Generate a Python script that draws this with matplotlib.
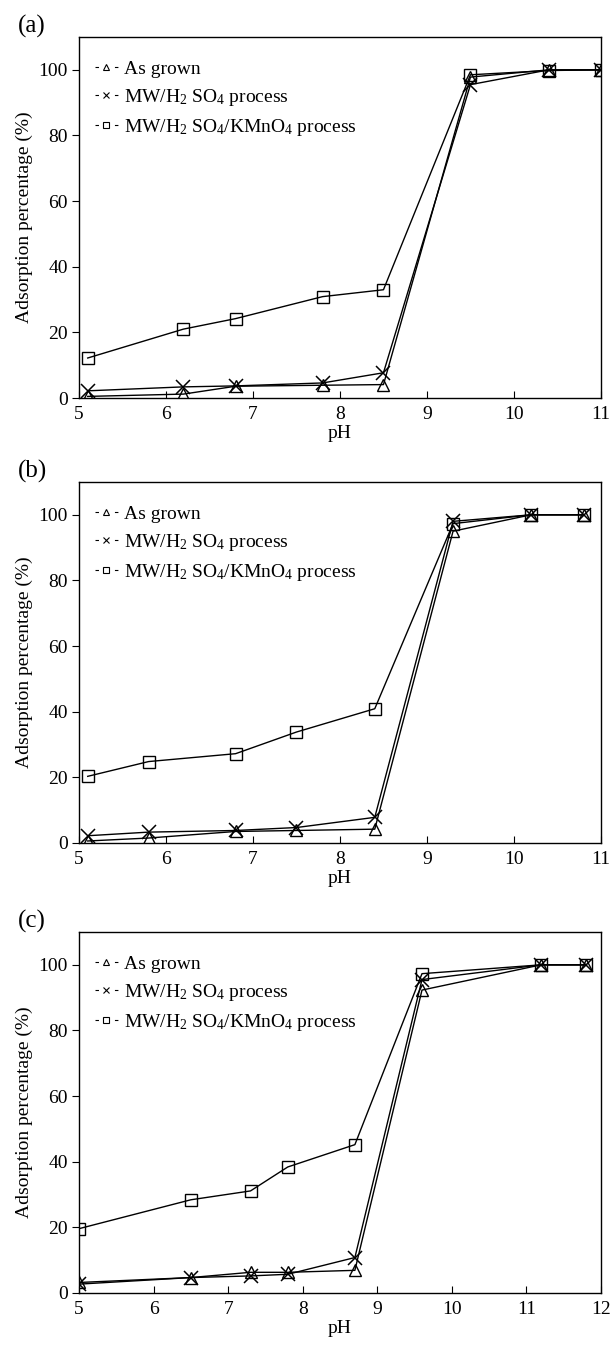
import matplotlib
matplotlib.use("Agg")
import matplotlib.pyplot as plt
from matplotlib.lines import Line2D

plt.rcParams['font.family'] = ['Liberation Serif', 'DejaVu Serif']
plt.rcParams['mathtext.fontset'] = 'custom'
plt.rcParams['mathtext.rm'] = 'Liberation Serif'
plt.rcParams['mathtext.it'] = 'Liberation Serif:italic'
plt.rcParams['lines.scale_dashes'] = False

# panel (a)
ph_a = [5.1, 6.2, 6.8, 7.8, 8.5, 9.5, 10.4, 11.0]
grown_a = [0.5, 1.2, 3.6, 3.9, 4.1, 97.8, 100, 100]
h2so4_a = [2.2, 3.4, 3.7, 4.6, 7.7, 95.5, 100, 100]
kmno4_a = [12.2, 21.0, 24.2, 30.9, 33.0, 98.5, 99.8, 100]

# panel (b)
ph_b = [5.1, 5.8, 6.8, 7.5, 8.4, 9.3, 10.2, 10.8]
grown_b = [0.6, 1.5, 3.5, 3.8, 4.2, 95.0, 100, 100]
h2so4_b = [2.2, 3.3, 3.8, 4.7, 7.8, 98.0, 100, 100]
kmno4_b = [20.3, 24.8, 27.2, 33.8, 40.9, 97.3, 100, 100]

# panel (c)
ph_c = [5.0, 6.5, 7.3, 7.8, 8.7, 9.6, 11.2, 11.8]
grown_c = [3.2, 4.7, 6.3, 6.3, 6.9, 92.3, 100, 100]
h2so4_c = [2.7, 4.7, 5.2, 5.7, 10.8, 95.5, 100, 100]
kmno4_c = [19.6, 28.4, 31.1, 38.4, 45.2, 97.3, 100, 100]

panels = [
    ("(a)", ph_a, grown_a, h2so4_a, kmno4_a, (5, 11)),
    ("(b)", ph_b, grown_b, h2so4_b, kmno4_b, (5, 11)),
    ("(c)", ph_c, grown_c, h2so4_c, kmno4_c, (5, 12)),
]

labels = ["As grown", "MW/H$_2$ SO$_4$ process",
          "MW/H$_2$ SO$_4$/KMnO$_4$ process"]

fig = plt.figure(figsize=(6.14, 13.47), dpi=100)
bottoms = [0.7045, 0.3742, 0.0401]

for (tag, ph, grown, h2so4, kmno4, xlim), b in zip(panels, bottoms):
    ax = fig.add_axes([0.1287, b, 0.850, 0.268])
    ax.plot(ph, grown, color='k', lw=1, marker='^', ms=9, mfc='none', mew=1, clip_on=True)
    ax.plot(ph, h2so4, color='k', lw=1, marker='x', ms=10, mew=1.1)
    ax.plot(ph, kmno4, color='k', lw=1, marker='s', ms=9, mfc='none', mew=1)

    ax.set_xlim(*xlim)
    ax.set_ylim(0, 110)
    ax.set_yticks([0, 20, 40, 60, 80, 100])
    ax.set_xticks(range(xlim[0], xlim[1] + 1))
    ax.tick_params(axis='x', direction='in', length=5, labelsize=14, pad=6)
    ax.tick_params(axis='y', direction='out', length=5, labelsize=14, pad=3)
    for sp in ax.spines.values():
        sp.set_linewidth(1)
    ax.set_xlabel("pH", fontsize=14, labelpad=1)
    ax.set_ylabel("Adsorption percentage (%)", fontsize=14, labelpad=4)
    ax.text(-0.09, 1.028, tag, transform=ax.transAxes, fontsize=18,
            ha='center', va='center')

    handles = [
        Line2D([], [], color='k', lw=0.8, ls=(0, (2.5, 11.5)), marker='^', ms=5, mfc='none', mew=0.8),
        Line2D([], [], color='k', lw=0.8, ls=(0, (2.5, 11.5)), marker='x', ms=5, mew=0.8),
        Line2D([], [], color='k', lw=0.8, ls=(0, (2.5, 11.5)), marker='s', ms=5, mfc='none', mew=0.8),
    ]
    ax.legend(handles, labels, loc='upper left', bbox_to_anchor=(0.03, 0.935),
              frameon=False, fontsize=14, handlelength=1.2, handletextpad=0.3,
              labelspacing=0.45, borderpad=0, borderaxespad=0, numpoints=1)

fig.savefig("out.png", dpi=100)
